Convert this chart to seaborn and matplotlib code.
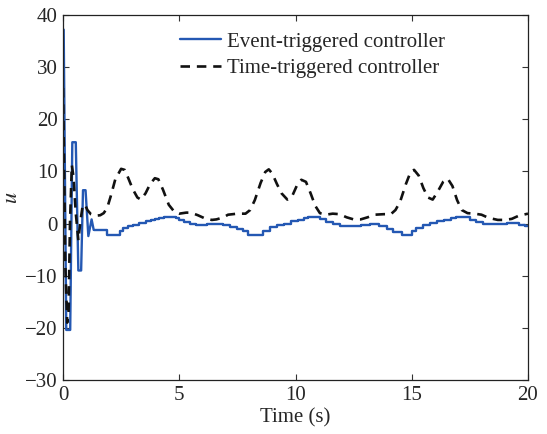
import matplotlib
matplotlib.use("Agg")
import matplotlib.pyplot as plt
import seaborn as sns
import pandas as pd

# Event-triggered controller: initial transient (continuous segments)
trans_t = [0.00, 0.03, 0.14, 0.31, 0.40, 0.55, 0.66, 0.78, 0.86, 0.97, 1.09, 1.23, 1.32]
trans_u = [37.2, 37.2, -20.4, -20.4, 15.6, 15.6, -9.0, -9.0, 6.4, 6.4, -2.4, 0.8, -1.2]

# Event-triggered controller: held values after transient (zero-order hold)
event_t = [1.32, 1.88, 2.45, 2.60, 2.80,
           3.00, 3.25, 3.55, 3.80, 3.95, 4.15, 4.35, 4.85, 5.00, 5.20, 5.45, 5.70,
           6.20, 6.60, 6.90, 7.20, 7.50, 7.75, 7.95, 8.60, 8.90, 9.20, 9.50, 9.80,
           10.10, 10.35, 10.55, 11.05, 11.30, 11.60, 11.90, 12.80, 13.20, 13.60,
           13.95, 14.20, 14.60, 15.00, 15.20, 15.50, 15.80, 16.10, 16.40, 16.70,
           16.90, 17.50, 17.75, 18.05, 18.70, 19.10, 19.60, 19.85, 20.00]
event_u = [-1.2, -2.2, -1.5, -0.9, -0.5,
           -0.2, 0.1, 0.4, 0.6, 0.9, 1.1, 1.3, 1.0, 0.6, 0.3, 0.0, -0.3,
           -0.1, 0.0, -0.2, -0.6, -1.0, -1.5, -2.1, -1.4, -0.7, -0.3, 0.0, 0.4,
           0.7, 1.0, 1.3, 0.8, 0.3, -0.1, -0.4, -0.2, -0.1, -0.5,
           -1.0, -1.6, -2.2, -1.5, -0.8, -0.3, 0.1, 0.4, 0.7, 1.0,
           1.3, 0.6, 0.3, -0.1, -0.1, 0.1, -0.2, -0.5, -0.5]

# Time-triggered controller
time_t = [0.00, 0.05, 0.10, 0.18, 0.24, 0.30, 0.38, 0.45, 0.55, 0.66, 0.75, 0.85,
          0.95, 1.05, 1.20, 1.40, 1.60, 1.75, 1.90, 2.05, 2.25, 2.50, 2.65, 2.80,
          3.00, 3.20, 3.35, 3.55, 3.75, 3.95, 4.10, 4.30, 4.55, 4.80, 5.00, 5.30,
          5.50, 5.80, 6.10, 6.40, 6.60, 6.90, 7.10, 7.50, 7.85, 8.05, 8.25, 8.50,
          8.70, 8.85, 9.00, 9.20, 9.40, 9.65, 9.85, 10.05, 10.25, 10.45, 10.65,
          10.85, 11.05, 11.30, 11.60, 11.90, 12.20, 12.50, 12.80, 13.10, 13.40,
          13.80, 14.10, 14.30, 14.50, 14.75, 14.95, 15.10, 15.30, 15.50, 15.70,
          15.90, 16.10, 16.35, 16.55, 16.75, 16.95, 17.15, 17.40, 17.70, 18.00,
          18.30, 18.70, 19.00, 19.30, 19.60, 20.00]
time_u = [26.0, 10.0, -8.0, -19.0, -17.0, 0.0, 11.2, 9.0, 2.0, -3.2, 0.5, 3.5,
          3.6, 2.6, 1.8, 1.5, 1.6, 2.0, 3.0, 5.2, 8.5, 10.5, 10.3, 8.8,
          6.6, 5.0, 4.6, 5.8, 7.6, 8.7, 8.5, 6.5, 3.6, 2.2, 1.9, 2.1,
          2.1, 1.6, 1.0, 0.7, 0.8, 1.2, 1.7, 1.9, 1.9, 2.6, 4.5, 7.8,
          9.9, 10.4, 9.6, 7.6, 5.8, 4.6, 5.2, 7.2, 8.4, 8.0, 5.8,
          3.4, 2.0, 1.7, 1.9, 1.8, 1.2, 0.8, 0.8, 1.2, 1.7,
          1.8, 1.8, 2.6, 4.2, 7.6, 9.9, 10.3, 9.2, 6.8, 5.0,
          4.6, 6.0, 8.0, 8.6, 7.2, 4.5, 2.6, 2.0, 1.9, 1.7,
          1.1, 0.7, 0.7, 0.9, 1.5, 1.9]

labels = ["Event-triggered controller", "Time-triggered controller"]
x_ticks = [0, 5, 10, 15, 20]
y_ticks = [-30, -20, -10, 0, 10, 20, 30, 40]

sns.set_style("ticks")
plt.rcParams["font.family"] = ["Liberation Serif", "DejaVu Serif"]
plt.rcParams["mathtext.fontset"] = "stix"

BLUE = "#2458b3"
FS = 15

fig = plt.figure(figsize=(5.47, 4.34), dpi=100)
ax = fig.add_axes([63 / 547, 1 - 380 / 434, 465 / 547, 365 / 434])

df_tr = pd.DataFrame({"t": trans_t, "u": trans_u})
df_e = pd.DataFrame({"t": event_t, "u": event_u})
df_t = pd.DataFrame({"t": time_t, "u": time_u})

sns.lineplot(data=df_tr, x="t", y="u", ax=ax, color=BLUE, lw=1.7,
             estimator=None, sort=False, legend=False)
sns.lineplot(data=df_e, x="t", y="u", ax=ax, color=BLUE, lw=1.7,
             drawstyle="steps-post", estimator=None, sort=False, label=labels[0])
sns.lineplot(data=df_t, x="t", y="u", ax=ax, color="#111111", lw=1.9,
             estimator=None, sort=False, label=labels[1])
ax.lines[2].set_dashes((3.6, 2.6))

ax.set_xlim(0, 20)
ax.set_ylim(-30, 40)
ax.set_xticks(x_ticks)
ax.set_yticks(y_ticks)
ax.set_xticklabels([str(v) for v in x_ticks])
ax.set_yticklabels([str(v).replace("-", "\u2212") for v in y_ticks])
ax.tick_params(direction="in", top=True, right=True, length=4, width=0.8,
               labelsize=FS, pad=4, color="#333333")
for s in ax.spines.values():
    s.set_linewidth(0.9)
    s.set_color("#222222")
    s.set_visible(True)

ax.set_xlabel("Time (s)", fontsize=FS, labelpad=3)
ax.set_ylabel("$u$", fontsize=16, labelpad=2)

handles, labs = ax.get_legend_handles_labels()
leg = ax.legend(handles, labs, loc="upper left",
                bbox_to_anchor=(180 / 547, 1 - 32 / 434),
                bbox_transform=fig.transFigure, frameon=False, fontsize=FS,
                borderpad=0, borderaxespad=0, handlelength=1.95,
                handletextpad=0.3, labelspacing=0.33)

fig.savefig("out.png", dpi=100)
